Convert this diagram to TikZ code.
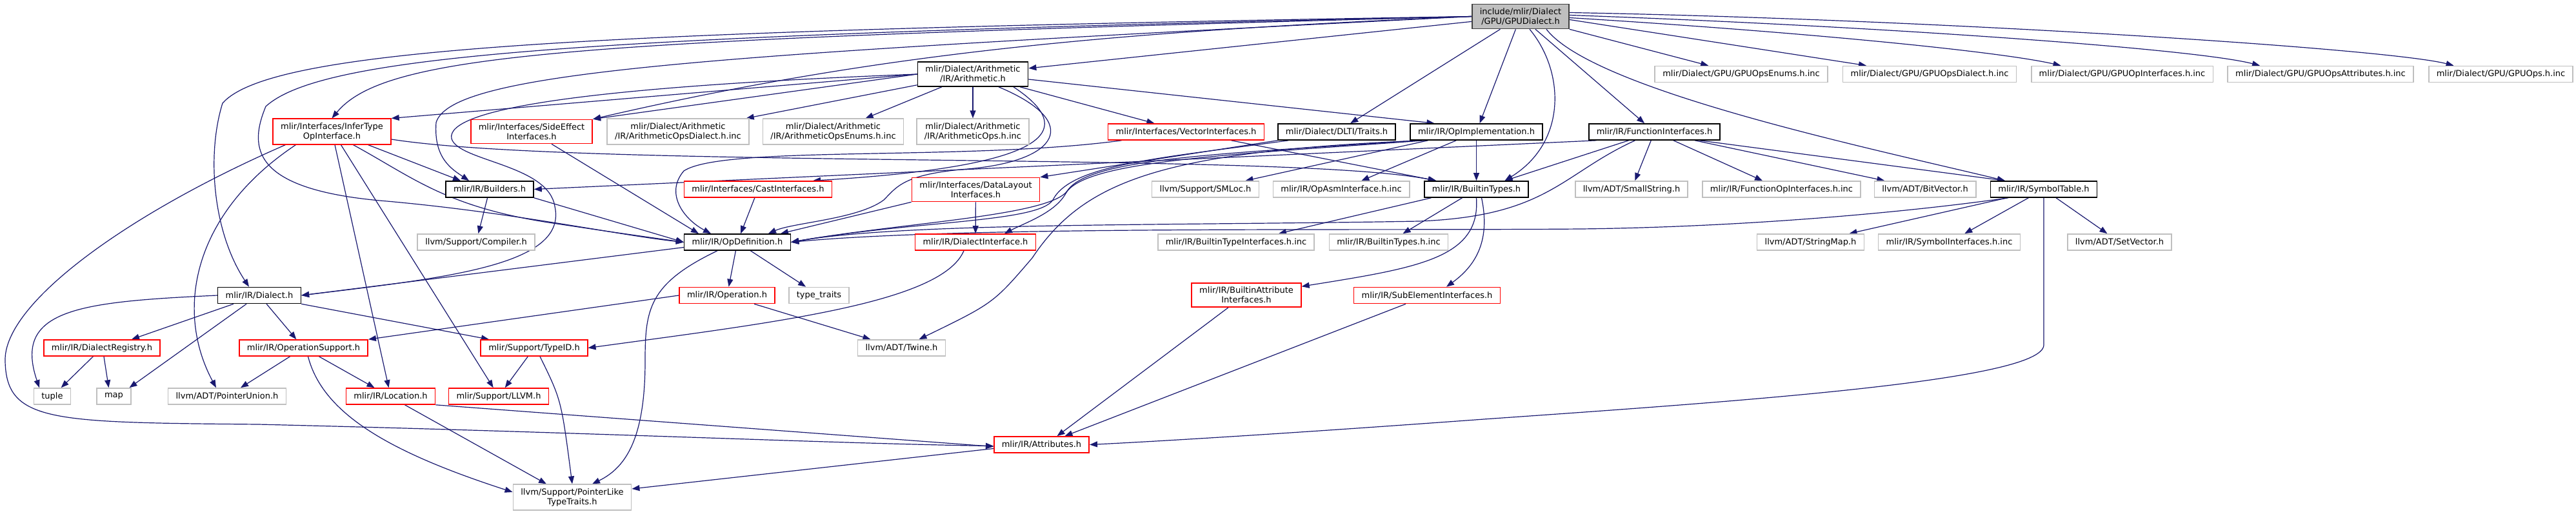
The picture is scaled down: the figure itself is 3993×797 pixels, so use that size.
\documentclass[tikz,border=0pt]{standalone}
\usepackage{fontspec}
\setmainfont{DejaVu Sans}
\usetikzlibrary{arrows.meta,backgrounds}

\definecolor{edgeblue}{RGB}{25,25,112}
\definecolor{boxgray}{RGB}{191,191,191}

\begin{document}
\begin{tikzpicture}[
  x=1pt, y=-1pt,
  >={Triangle[length=12pt,width=9pt]},
  every node/.style={font=\fontsize{13}{15}\selectfont},
  filebox/.style={draw, line width=1.6pt, fill=white, inner xsep=12pt, inner ysep=6pt, minimum height=25pt, align=center},
  docfile/.style={filebox, draw=black},
  badfile/.style={filebox, draw=red},
  extfile/.style={filebox, draw=boxgray},
  mainfile/.style={filebox, draw=black!75, fill=boxgray},
  dep/.style={->, edgeblue, line width=1.2pt}
]
\useasboundingbox (0,0) rectangle (3993,797);

% The header itself
\node[mainfile] (gpudialect) at (2357,25.5) {include/mlir/Dialect\\/GPU/GPUDialect.h};

% First level
\node[docfile] (arith) at (1508,115) {mlir/Dialect/Arithmetic\\/IR/Arithmetic.h};
\node[extfile] (gpuenums) at (2699,115) {mlir/Dialect/GPU/GPUOpsEnums.h.inc};
\node[extfile] (gpudialectinc) at (2991,115) {mlir/Dialect/GPU/GPUOpsDialect.h.inc};
\node[extfile] (gpuopifaces) at (3289.5,115) {mlir/Dialect/GPU/GPUOpInterfaces.h.inc};
\node[extfile] (gpuattrs) at (3597,115) {mlir/Dialect/GPU/GPUOpsAttributes.h.inc};
\node[extfile] (gpuops) at (3876.5,115) {mlir/Dialect/GPU/GPUOps.h.inc};

% Interfaces row
\node[badfile] (infertype) at (514.5,204) {mlir/Interfaces/InferType\\OpInterface.h};
\node[badfile] (sideeffect) at (824,204) {mlir/Interfaces/SideEffect\\Interfaces.h};
\node[extfile] (arithdialect) at (1051,204) {mlir/Dialect/Arithmetic\\/IR/ArithmeticOpsDialect.h.inc};
\node[extfile] (arithenums) at (1291.5,204) {mlir/Dialect/Arithmetic\\/IR/ArithmeticOpsEnums.h.inc};
\node[extfile] (arithops) at (1508,204) {mlir/Dialect/Arithmetic\\/IR/ArithmeticOps.h.inc};
\node[badfile] (vectorifaces) at (1838.5,204.5) {mlir/Interfaces/VectorInterfaces.h};
\node[docfile] (dlti) at (2072,204.5) {mlir/Dialect/DLTI/Traits.h};
\node[docfile] (opimpl) at (2288.5,204.5) {mlir/IR/OpImplementation.h};
\node[docfile] (funcifaces) at (2564.5,204.5) {mlir/IR/FunctionInterfaces.h};

% Builders row
\node[docfile] (builders) at (759,293.5) {mlir/IR/Builders.h};
\node[badfile] (castifaces) at (1175,293.5) {mlir/Interfaces/CastInterfaces.h};
\node[badfile] (datalayout) at (1512.5,294) {mlir/Interfaces/DataLayout\\Interfaces.h};
\node[extfile] (smloc) at (1868.5,293.5) {llvm/Support/SMLoc.h};
\node[extfile] (opasm) at (2079,293.5) {mlir/IR/OpAsmInterface.h.inc};
\node[docfile] (builtintypes) at (2288.5,293.5) {mlir/IR/BuiltinTypes.h};
\node[extfile] (smallstring) at (2529,293.5) {llvm/ADT/SmallString.h};
\node[extfile] (funcopifaces) at (2761.5,293.5) {mlir/IR/FunctionOpInterfaces.h.inc};
\node[extfile] (bitvector) at (2984,293.5) {llvm/ADT/BitVector.h};
\node[docfile] (symtab) at (3168,293.5) {mlir/IR/SymbolTable.h};

% OpDefinition row
\node[extfile] (compiler) at (738,375.5) {llvm/Support/Compiler.h};
\node[docfile] (opdef) at (1143,375.5) {mlir/IR/OpDefinition.h};
\node[badfile] (dialectiface) at (1512,375.5) {mlir/IR/DialectInterface.h};
\node[extfile] (builtintypeifaces) at (1916,375.5) {mlir/IR/BuiltinTypeInterfaces.h.inc};
\node[extfile] (builtintypesinc) at (2152.5,375.5) {mlir/IR/BuiltinTypes.h.inc};
\node[extfile] (stringmap) at (2806.5,375.5) {llvm/ADT/StringMap.h};
\node[extfile] (symifaces) at (3021.5,375.5) {mlir/IR/SymbolInterfaces.h.inc};
\node[extfile] (setvector) at (3285.5,375.5) {llvm/ADT/SetVector.h};

% Dialect row
\node[docfile] (dialect) at (402,458) {mlir/IR/Dialect.h};
\node[badfile] (operation) at (1127,458) {mlir/IR/Operation.h};
\node[extfile] (typetraits) at (1269.5,458) {type\_traits};
\node[badfile] (battrifaces) at (1932,457.5) {mlir/IR/BuiltinAttribute\\Interfaces.h};
\node[badfile] (subelement) at (2212,458) {mlir/IR/SubElementInterfaces.h};

% Support row
\node[badfile] (dialectregistry) at (158,539.5) {mlir/IR/DialectRegistry.h};
\node[badfile] (opsupport) at (470.5,539.5) {mlir/IR/OperationSupport.h};
\node[badfile] (typeid) at (828,539.5) {mlir/Support/TypeID.h};
\node[extfile] (twine) at (1397.5,539.5) {llvm/ADT/Twine.h};

% Leaves
\node[extfile] (tuple) at (81,614.5) {tuple};
\node[extfile] (map) at (176.5,614.5) {map};
\node[extfile] (pointerunion) at (352,614.5) {llvm/ADT/PointerUnion.h};
\node[badfile] (location) at (605.5,614.5) {mlir/IR/Location.h};
\node[badfile] (llvm) at (773,614.5) {mlir/Support/LLVM.h};
\node[badfile] (attributes) at (1614.5,689.5) {mlir/IR/Attributes.h};
\node[extfile] (pointerlike) at (887,771) {llvm/Support/PointerLike\\TypeTraits.h};

\begin{pgfonlayer}{background}
\fill[white] (0,0) rectangle (3993,797);

% Includes of GPUDialect.h
\draw[dep] (gpudialect) -- (arith);
\draw[dep] (gpudialect) -- (gpuenums);
\draw[dep] ([yshift=-5pt]gpudialect.east) -- ([xshift=-98pt]gpudialectinc.north);
\draw[dep] ([yshift=-2pt]gpudialect.east) .. controls (2800,50) and (3100,80) .. ([xshift=-95pt]gpuopifaces.north);
\draw[dep] ([yshift=2pt]gpudialect.east) .. controls (2900,40) and (3400,75) .. ([xshift=-94pt]gpuattrs.north);
\draw[dep] ([yshift=6pt]gpudialect.east) .. controls (3000,30) and (3700,75) .. ([xshift=-73pt]gpuops.north);
\draw[dep] (gpudialect) -- (dlti);
\draw[dep] (gpudialect) -- (opimpl);
\draw[dep] (gpudialect) -- (funcifaces);
\draw[dep] ([xshift=14pt]gpudialect.south) .. controls (2425,110) and (2430,220) .. ([xshift=44pt]builtintypes.north);
\draw[dep] ([xshift=40pt]gpudialect.south) .. controls (2470,140) and (2900,230) .. ([xshift=-60pt]symtab.north);
\draw[dep] (gpudialect.west) .. controls (900,62) and (600,80) .. (infertype.north);
\draw[dep] (gpudialect.west) .. controls (1700,50) and (1350,85) .. (sideeffect.north east);
\draw[dep] (gpudialect.west) .. controls (1100,85) and (700,110) .. (676,190) .. controls (672,245) and (700,262) .. ([xshift=-32pt]builders.north);
\draw[dep] (gpudialect.west) .. controls (900,55) and (500,85) .. (412,165) .. controls (385,230) and (390,295) .. (600,312) .. controls (800,330) and (960,365) .. (opdef.west);
\draw[dep] (gpudialect.west) .. controls (900,48) and (420,75) .. (345,160) .. controls (320,240) and (330,360) .. ([xshift=-16pt]dialect.north);

% Arithmetic.h
\draw[dep] (arith.west) -- (infertype.north east);
\draw[dep] (arith.west) -- (sideeffect.north east);
\draw[dep] (arith) -- (arithdialect);
\draw[dep] (arith) -- (arithenums);
\draw[dep] (arith) -- (arithops);
\draw[dep] (arith) -- (vectorifaces);
\draw[dep] ([yshift=-8pt]arith.east) -- ([xshift=-65pt]opimpl.north);
\draw[dep] ([xshift=63pt]arith.south) .. controls (1700,220) and (1560,262) .. ([xshift=85pt]castifaces.north);
\draw[dep] ([xshift=40pt]arith.south) .. controls (1680,190) and (1640,250) .. (1500,262) .. controls (1400,270) and (1390,290) .. (1370,310) .. controls (1330,340) and (1230,345) .. ([xshift=48pt]opdef.north);
\draw[dep] (arith.west) .. controls (900,135) and (690,170) .. (700,215) .. controls (710,250) and (850,255) .. (860,320) .. controls (880,410) and (700,430) .. (dialect.east);

% InferTypeOpInterface.h
\draw[dep] ([xshift=-72pt]infertype.south) .. controls (200,330) and (5,470) .. (8,560) .. controls (10,655) and (80,655) .. (400,658) .. controls (900,670) and (1300,688) .. ([yshift=-2pt]attributes.west);
\draw[dep] ([xshift=-56pt]infertype.south) .. controls (300,330) and (270,480) .. ([xshift=-17pt]pointerunion.north);
\draw[dep] (infertype) -- (location);
\draw[dep] ([xshift=14pt]infertype.south) -- (llvm);
\draw[dep] ([xshift=33pt]infertype.south) .. controls (640,275) and (690,320) .. (850,345) .. controls (950,360) .. (opdef.west);
\draw[dep] ([xshift=56pt]infertype.south) -- ([xshift=-45pt]builders.north);
\draw[dep] ([yshift=-12pt]infertype.east) .. controls (900,262) and (2000,235) .. ([xshift=-63pt]builtintypes.north);

% SideEffectInterfaces.h, VectorInterfaces.h, Traits.h
\draw[dep] ([xshift=31pt]sideeffect.south) -- ([xshift=-60pt]opdef.north);
\draw[dep] ([xshift=-100pt]vectorifaces.south) .. controls (1500,250) and (1120,225) .. (1060,265) .. controls (1030,300) and (1060,340) .. ([xshift=-41pt]opdef.north);
\draw[dep] ([xshift=70pt]vectorifaces.south) -- ([xshift=-62pt]builtintypes.north);
\draw[dep] (dlti.south west) -- (datalayout.north east);
\draw[dep] ([xshift=-75pt]dlti.south) .. controls (1800,245) and (1660,255) .. (1632,310) .. controls (1610,345) and (1420,342) .. (opdef.east);

% OpImplementation.h
\draw[dep] (opimpl) -- (builtintypes);
\draw[dep] (opimpl) -- (opasm);
\draw[dep] ([xshift=-75pt]opimpl.south) -- ([xshift=62pt]smloc.north);
\draw[dep] ([xshift=-80pt]opimpl.south) .. controls (1900,240) and (1680,250) .. (1652,300) .. controls (1635,330) and (1590,345) .. ([xshift=45pt]dialectiface.north);
\draw[dep] ([xshift=-85pt]opimpl.south) .. controls (1800,235) and (1680,280) .. (1600,400) .. controls (1540,470) .. ([xshift=27pt]twine.north);
\draw[dep] ([xshift=-90pt]opimpl.south) .. controls (1900,238) and (1690,245) .. (1655,295) .. controls (1630,335) and (1400,345) .. (opdef.east);

% FunctionInterfaces.h
\draw[dep] ([xshift=-90pt]funcifaces.south) -- (builders.east);
\draw[dep] ([xshift=-40pt]funcifaces.south) -- ([xshift=44pt]builtintypes.north);
\draw[dep] ([xshift=-30pt]funcifaces.south) .. controls (2420,270) and (2400,335) .. (2200,343) .. controls (1800,350) and (1400,345) .. (opdef.east);
\draw[dep] (funcifaces) -- (smallstring);
\draw[dep] (funcifaces) -- (funcopifaces);
\draw[dep] (funcifaces) -- (bitvector);
\draw[dep] ([xshift=70pt]funcifaces.south) -- ([xshift=-60pt]symtab.north);

% SymbolTable.h
\draw[dep] ([xshift=-55pt]symtab.south) .. controls (2950,330) and (2700,352) .. (2450,355) .. controls (2100,358) and (1500,350) .. (opdef.east);
\draw[dep] ([xshift=-57pt]symtab.south) -- ([xshift=60pt]stringmap.north);
\draw[dep] (symtab) -- (symifaces);
\draw[dep] (symtab) -- (setvector);
\draw[dep] (symtab.south) -- ++(0,228) .. controls (3168,590) and (2700,622) .. (2300,650) .. controls (2000,672) and (1800,684) .. (attributes.east);

% Builders.h, CastInterfaces.h, DataLayoutInterfaces.h
\draw[dep] (builders) -- (compiler);
\draw[dep] (builders.south east) -- (opdef.west);
\draw[dep] (castifaces) -- (opdef);
\draw[dep] (datalayout) -- (dialectiface);
\draw[dep] (datalayout.south west) -- ([xshift=67pt]opdef.north);

% BuiltinTypes.h
\draw[dep] (builtintypes.south) .. controls (2295,400) and (2200,415) .. ([yshift=-6pt]battrifaces.north east);
\draw[dep] ([xshift=8pt]builtintypes.south) .. controls (2310,370) and (2290,410) .. ([xshift=30pt]subelement.north);
\draw[dep] ([xshift=-70pt]builtintypes.south) -- ([xshift=66pt]builtintypeifaces.north);
\draw[dep] (builtintypes) -- (builtintypesinc);

% OpDefinition.h
\draw[dep] ([yshift=-8pt]opdef.west) -- (dialect.east);
\draw[dep] (opdef) -- (operation);
\draw[dep] (opdef) -- (typetraits);
\draw[dep] ([xshift=-31pt]opdef.south) .. controls (1005,440) and (1000,480) .. (1000,560) .. controls (1000,680) and (970,725) .. ([xshift=31pt]pointerlike.north);
\draw[dep] ([xshift=-18pt]dialectiface.south) .. controls (1460,470) and (1200,500) .. (typeid.east);

% Dialect.h and below
\draw[dep] (dialect.west) .. controls (120,468) and (20,480) .. ([xshift=-20pt]tuple.north);
\draw[dep] ([xshift=-40pt]dialect.south) -- ([xshift=46pt]dialectregistry.north);
\draw[dep] ([xshift=-20pt]dialect.south) -- ([xshift=24pt]map.north);
\draw[dep] (dialect) -- (opsupport);
\draw[dep] (dialect.south east) -- ([xshift=-70pt]typeid.north);
\draw[dep] (dialectregistry) -- (tuple);
\draw[dep] ([xshift=3pt]dialectregistry.south) -- ([xshift=-8pt]map.north);
\draw[dep] (opsupport) -- (pointerunion);
\draw[dep] ([xshift=24pt]opsupport.south) -- ([xshift=-25pt]location.north);
\draw[dep] ([xshift=7pt]opsupport.south) .. controls (500,640) and (600,700) .. ([yshift=8pt]pointerlike.west);
\draw[dep] (operation.west) -- (opsupport.north east);
\draw[dep] ([xshift=42pt]operation.south) -- ([xshift=-48pt]twine.north);
\draw[dep] (typeid) -- (llvm);
\draw[dep] ([xshift=9pt]typeid.south) .. controls (870,620) .. (pointerlike.north);
\draw[dep] ([xshift=22pt]location.south) -- ([xshift=-40pt]pointerlike.north);
\draw[dep] (location.south east) -- ([yshift=-3pt]attributes.west);
\draw[dep] ([xshift=-28pt]battrifaces.south) -- ([xshift=24pt]attributes.north);
\draw[dep] ([xshift=-33pt]subelement.south) -- ([xshift=36pt]attributes.north);
\draw[dep] ([yshift=-6pt]attributes.west) -- ([yshift=13pt]pointerlike.east);
\end{pgfonlayer}

\end{tikzpicture}
\end{document}
